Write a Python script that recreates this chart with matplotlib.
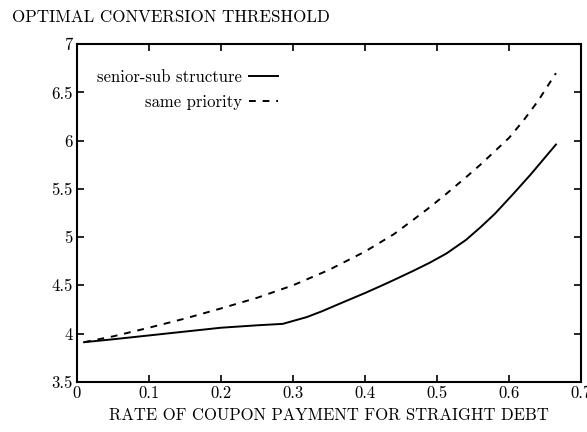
from matplotlib import pyplot as plt

plt.rcParams.update({'font.family': 'serif', 'font.serif': ['cmr10'],
                     'mathtext.fontset': 'cm', 'axes.formatter.use_mathtext': True,
                     'font.size': 12})

# coupon rate vs optimal conversion threshold
coupon_senior = [0.01, 0.05, 0.1, 0.15, 0.2, 0.25, 0.2857, 0.319, 0.34, 0.365, 0.40, 0.421,
                 0.44, 0.467, 0.49, 0.513, 0.54, 0.56, 0.58, 0.606, 0.63, 0.665]
thresh_senior = [3.91, 3.94, 3.98, 4.02, 4.06, 4.085, 4.10, 4.17, 4.23, 4.31, 4.42, 4.49,
                 4.555, 4.65, 4.735, 4.83, 4.97, 5.10, 5.24, 5.45, 5.65, 5.96]

coupon_same = [0.01, 0.05, 0.1, 0.15, 0.2, 0.25, 0.3, 0.35, 0.4, 0.44, 0.467, 0.49, 0.513,
               0.54, 0.56, 0.58, 0.6, 0.62, 0.64, 0.665]
thresh_same = [3.91, 3.97, 4.06, 4.155, 4.26, 4.37, 4.50, 4.66, 4.85, 5.03, 5.18, 5.31, 5.45,
               5.62, 5.75, 5.89, 6.03, 6.21, 6.41, 6.70]

fig = plt.figure(figsize=(5.87, 4.32), dpi=100)
ax = fig.add_axes([0.131, 0.1164, 0.859, 0.7811])

ax.plot(coupon_senior, thresh_senior, color='black', lw=1.4, label='senior-sub structure')
ax.plot(coupon_same, thresh_same, color='black', lw=1.4, dashes=(3.5, 3.5), label='same priority')

ax.set_xlim(0, 0.7)
ax.set_ylim(3.5, 7)
ax.set_xticks([0, 0.1, 0.2, 0.3, 0.4, 0.5, 0.6, 0.7])
ax.set_xticklabels(['0', '0.1', '0.2', '0.3', '0.4', '0.5', '0.6', '0.7'])
ax.set_yticks([3.5, 4, 4.5, 5, 5.5, 6, 6.5, 7])
ax.set_yticklabels(['3.5', '4', '4.5', '5', '5.5', '6', '6.5', '7'])
ax.tick_params(direction='in', top=True, right=True, length=5, width=1.2, pad=3, labelsize=12)
for s in ax.spines.values():
    s.set_linewidth(1.5)

ax.set_xlabel('RATE OF COUPON PAYMENT FOR STRAIGHT DEBT', fontsize=12, labelpad=5)
fig.text(0.02, 0.96, 'OPTIMAL CONVERSION THRESHOLD', fontsize=12.2, va='center', ha='left')

ax.legend(loc='upper left', bbox_to_anchor=(0.01, 0.97), markerfirst=False, frameon=False,
          handlelength=1.75, handletextpad=0.45, labelspacing=0.6, fontsize=12)

plt.savefig('out.png', dpi=100)
